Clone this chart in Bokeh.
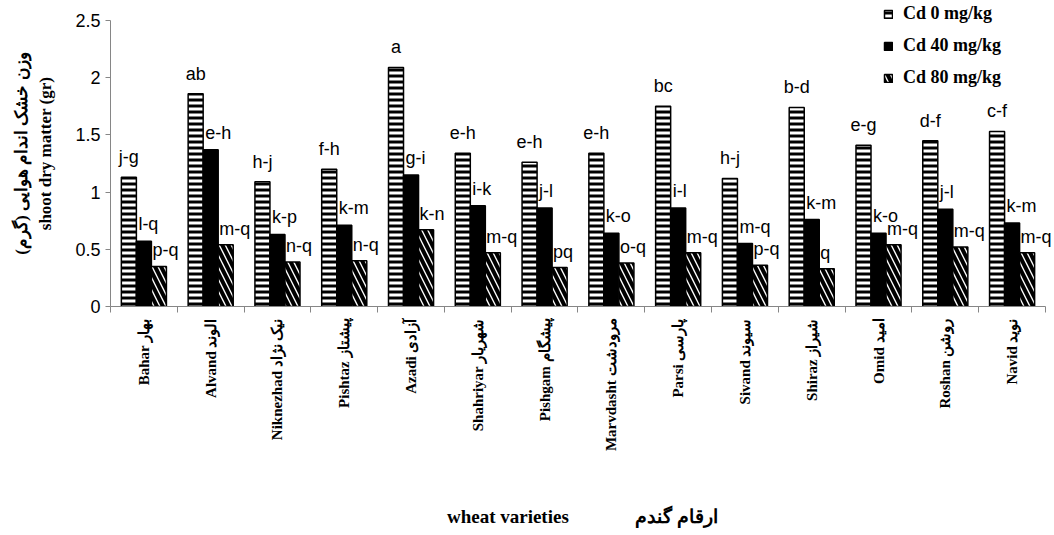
import math
from bokeh.plotting import figure
from bokeh.models import (Range1d, FixedTicker, LinearAxis, ColumnDataSource, Legend,
                          LegendItem, CustomJSTickFormatter)
from bokeh.transform import dodge
from bokeh.core.properties import value
from bokeh.embed import file_html
from bokeh.resources import INLINE

# ---------------- data ----------------
varieties_en = ["Bahar", "Alvand", "Niknezhad", "Pishtaz", "Azadi", "Shahriyar", "Pishgam",
                "Marvdasht", "Parsi", "Sivand", "Shiraz", "Omid", "Roshan", "Navid"]
varieties_fa = ["بهار", "الوند", "نیک نژاد", "پیشتاز", "آزادی", "شهریار", "پیشگام",
                "مرودشت", "پارسی", "سیوند", "شیراز", "امید", "روشن", "نوید"]
cd0 = [1.13, 1.86, 1.09, 1.20, 2.09, 1.34, 1.26, 1.34, 1.75, 1.12, 1.74, 1.41, 1.45, 1.53]
cd40 = [0.57, 1.37, 0.63, 0.71, 1.15, 0.88, 0.86, 0.64, 0.86, 0.55, 0.76, 0.64, 0.85, 0.73]
cd80 = [0.35, 0.54, 0.39, 0.40, 0.67, 0.47, 0.34, 0.38, 0.47, 0.36, 0.33, 0.54, 0.52, 0.47]
let0 = ["j-g", "ab", "h-j", "f-h", "a", "e-h", "e-h", "e-h", "bc", "h-j", "b-d", "e-g", "d-f", "c-f"]
let40 = ["l-q", "e-h", "k-p", "k-m", "g-i", "i-k", "j-l", "k-o", "i-l", "m-q", "k-m", "k-o", "j-l", "k-m"]
let80 = ["p-q", "m-q", "n-q", "n-q", "k-n", "m-q", "pq", "o-q", "m-q", "p-q", "q", "m-q", "m-q", "m-q"]
series_names = ["Cd 0 mg/kg", "Cd 40 mg/kg", "Cd 80 mg/kg"]
y_ticks = [0, 0.5, 1, 1.5, 2, 2.5]
y_max = 2.5
ytitle_en = "shoot dry matter (gr)"
ytitle_fa = "وزن خشک اندام هوایی (گرم)\u200f"
xtitle = "wheat varieties" + "\u00a0" * 14 + "ارقام گندم"

n = len(varieties_en)
labels = [f"{e} {f}" for e, f in zip(varieties_en, varieties_fa)]
xc = [i + 0.5 for i in range(n)]
src = ColumnDataSource(dict(x=xc, cd0=cd0, cd40=cd40, cd80=cd80, l0=let0, l40=let40, l80=let80))

W = 0.225
GRAY = "#868686"

# frame: left 110, bottom 307; headroom above the axis top and to the right for labels/legend
p = figure(width=1054, height=530, x_range=Range1d(0, n + 0.135), y_range=Range1d(0, y_max * 1.07),
           output_backend="svg", toolbar_location=None,
           min_border_left=110, min_border_right=0, min_border_top=0, min_border_bottom=223)
p.outline_line_color = None
p.xgrid.visible = False
p.ygrid.visible = False

r0 = p.vbar(x=dodge("x", -W, range=p.x_range), top="cd0", width=W, source=src,
            fill_color="white", line_color="black", line_width=1.5,
            hatch_pattern="-", hatch_color="black", hatch_scale=6, hatch_weight=3)
r40 = p.vbar(x=dodge("x", 0, range=p.x_range), top="cd40", width=W, source=src,
             fill_color="black", line_color="black", line_width=1.5)
r80 = p.vbar(x=dodge("x", W, range=p.x_range), top="cd80", width=W, source=src,
             fill_color="white", line_color="black", line_width=1.5,
             hatch_pattern="\\", hatch_color="black", hatch_scale=12, hatch_weight=4)

txt = dict(text_font=value("Liberation Sans"), text_font_size="18px", text_color="black")
p.text(x=dodge("x", -W, range=p.x_range), y="cd0", text="l0", source=src,
       text_align="center", text_baseline="middle", y_offset=-20, **txt)
p.text(x=dodge("x", -W / 2, range=p.x_range), y="cd40", text="l40", source=src,
       text_align="left", text_baseline="middle", x_offset=2, y_offset=-17, **txt)
p.text(x=dodge("x", W / 2, range=p.x_range), y="cd80", text="l80", source=src,
       text_align="left", text_baseline="middle", x_offset=1, y_offset=-16, **txt)

# y axis
ya = p.yaxis[0]
ya.bounds = (0, y_max)
ya.ticker = FixedTicker(ticks=y_ticks)
ya.formatter = CustomJSTickFormatter(code="return String(tick);")
ya.axis_line_color = GRAY
ya.major_tick_line_color = GRAY
ya.major_tick_in = 0
ya.major_tick_out = 5
ya.minor_tick_line_color = None
ya.major_label_text_font = "Liberation Sans"
ya.major_label_text_font_size = "18px"
ya.major_label_text_color = "black"
ya.axis_label = ytitle_en
ya.axis_label_text_font = "Liberation Serif"
ya.axis_label_text_font_style = "bold"
ya.axis_label_text_font_size = "17px"
ya.axis_label_text_color = "black"
ya.axis_label_standoff = 17

ya2 = LinearAxis(ticker=FixedTicker(ticks=[]), axis_line_color=None, major_tick_line_color=None,
                 minor_tick_line_color=None,
                 axis_label=ytitle_fa, axis_label_text_font="Liberation Serif",
                 axis_label_text_font_style="bold", axis_label_text_font_size="17px",
                 axis_label_text_color="black", axis_label_standoff=3)
p.add_layout(ya2, "left")

# x axis: boundary ticks
xa = p.xaxis[0]
xa.bounds = (0, n)
xa.ticker = FixedTicker(ticks=list(range(n + 1)))
xa.formatter = CustomJSTickFormatter(code="return '';")
xa.axis_line_color = GRAY
xa.major_tick_line_color = GRAY
xa.major_tick_in = 0
xa.major_tick_out = 6
xa.minor_tick_line_color = None
xa.major_label_standoff = 0

xa2 = LinearAxis(ticker=FixedTicker(ticks=xc),
                 formatter=CustomJSTickFormatter(args=dict(names=labels),
                                                 code="return names[Math.round(tick - 0.5)] || '';"),
                 axis_line_color=None, major_tick_line_color=None, minor_tick_line_color=None,
                 major_label_orientation=math.pi / 2, major_label_standoff=0,
                 major_label_text_font="Liberation Serif", major_label_text_font_style="bold",
                 major_label_text_font_size="15px", major_label_text_color="black",
                 axis_label=xtitle, axis_label_text_font="Liberation Serif",
                 axis_label_text_font_style="bold", axis_label_text_font_size="19px",
                 axis_label_text_color="black", axis_label_standoff=52)
p.add_layout(xa2, "below")

legend = Legend(items=[LegendItem(label=series_names[0], renderers=[r0]),
                       LegendItem(label=series_names[1], renderers=[r40]),
                       LegendItem(label=series_names[2], renderers=[r80])],
                location=(771, 216), orientation="vertical",
                label_text_font="Liberation Serif", label_text_font_style="bold",
                label_text_font_size="18px", label_text_color="black",
                glyph_width=10, glyph_height=10, label_height=18, spacing=11, padding=2,
                margin=0, label_standoff=10,
                background_fill_alpha=0, border_line_alpha=0)
p.add_layout(legend)

open("out.html", "w").write(file_html(p, INLINE))
